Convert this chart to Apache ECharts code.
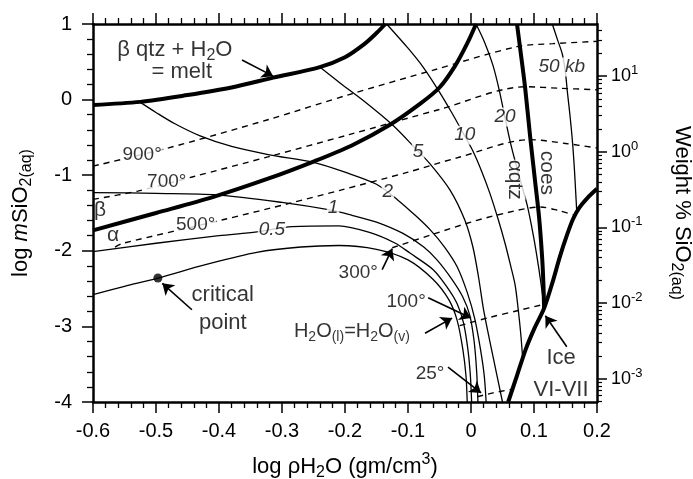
<!DOCTYPE html>
<html>
<head>
<meta charset="utf-8">
<script src="https://cdn.jsdelivr.net/npm/echarts@6/dist/echarts.min.js"></script>
<style>html,body{margin:0;padding:0;background:#fff}#c{width:693px;height:479px}</style>
</head>
<body>
<div id="c"></div>
<script>
const FONT = '"Liberation Sans", Arial, Helvetica, sans-serif';
// offset between log m and log weight% (right axis)
const WT_OFFSET = 0.69;

// axis ranges / ticks
const xRange = [-0.6, 0.2];
const yRange = [-4, 1];
const rightMajorExp = [-3, -2, -1, 0, 1];
const rightMinorMult = [2, 3, 4, 5, 6, 7, 8, 9];

// thick phase boundaries  [log rho, log m]
const meltCurve = [[-0.6,-0.07],[-0.525,-0.03],[-0.45,0.06],[-0.38,0.16],[-0.314,0.29],[-0.24,0.43],[-0.2,0.56],[-0.17,0.73],[-0.15,0.88],[-0.136,1.0]];
const alphaBeta = [[-0.6,-1.73],[-0.5,-1.5],[-0.41,-1.29],[-0.32,-1.04],[-0.25,-0.82],[-0.19,-0.61],[-0.13,-0.34],[-0.08,-0.05],[-0.05,0.16],[-0.025,0.45],[-0.005,0.76],[0.008,1.0]];
const coesQtz = [[0.073,1.0],[0.08,0.55],[0.086,0.15],[0.094,-0.5],[0.102,-1.1],[0.108,-1.55],[0.113,-2.1],[0.115,-2.45],[0.116,-2.76]];
const iceLine = [[0.059,-4.0],[0.073,-3.65],[0.087,-3.3],[0.101,-3.02],[0.116,-2.76],[0.13,-2.4],[0.141,-2.08],[0.152,-1.8],[0.162,-1.58],[0.172,-1.43],[0.185,-1.3],[0.2,-1.18]];

// thin isobars (kb) and liquid-vapour curve
const lvCurve = [[-0.6,-2.58],[-0.55,-2.47],[-0.497,-2.36],[-0.42,-2.18],[-0.34,-2.02],[-0.27,-1.95],[-0.21,-1.93],[-0.15,-1.98],[-0.1,-2.12],[-0.06,-2.38],[-0.035,-2.65],[-0.022,-2.92],[-0.013,-3.3],[-0.008,-3.65],[-0.006,-4.0]];
const kb05 = [[-0.6,-2.01],[-0.5,-1.9],[-0.4,-1.8],[-0.34,-1.75],[-0.284,-1.68],[-0.21,-1.67],[-0.16,-1.76],[-0.12,-1.9],[-0.097,-2.03],[-0.06,-2.25],[-0.038,-2.48],[-0.022,-2.7],[-0.012,-2.95],[-0.005,-3.3],[-0.001,-3.65],[0.001,-4.0]];
const kb1 = [[-0.6,-1.23],[-0.5,-1.24],[-0.403,-1.26],[-0.3,-1.36],[-0.224,-1.46],[-0.189,-1.53],[-0.15,-1.62],[-0.108,-1.77],[-0.075,-1.95],[-0.054,-2.12],[-0.03,-2.38],[-0.013,-2.61],[-0.002,-2.85],[0.005,-3.2],[0.009,-3.6],[0.011,-4.0]];
const kb2 = [[-0.526,-0.03],[-0.5,-0.17],[-0.47,-0.32],[-0.43,-0.48],[-0.38,-0.62],[-0.32,-0.73],[-0.25,-0.83],[-0.2,-0.96],[-0.15,-1.12],[-0.116,-1.33],[-0.09,-1.52],[-0.065,-1.72],[-0.042,-1.95],[-0.022,-2.21],[-0.006,-2.55],[0.006,-2.9],[0.015,-3.3],[0.021,-3.65],[0.024,-4.0]];
const kb5 = [[-0.24,0.43],[-0.208,0.22],[-0.17,-0.02],[-0.124,-0.34],[-0.09,-0.63],[-0.065,-0.85],[-0.033,-1.2],[-0.01,-1.59],[0.003,-1.95],[0.012,-2.35],[0.02,-2.78],[0.03,-3.2],[0.04,-3.6],[0.05,-4.0]];
const kb10 = [[-0.134,1.0],[-0.1,0.68],[-0.076,0.43],[-0.05,0.1],[-0.03,-0.18],[-0.012,-0.45],[0.003,-0.68],[0.017,-0.95],[0.03,-1.24],[0.043,-1.58],[0.054,-1.9],[0.063,-2.2],[0.07,-2.45],[0.075,-2.78],[0.079,-3.1],[0.082,-3.42]];
const kb20 = [[0.008,1.0],[0.022,0.75],[0.035,0.45],[0.045,0.12],[0.054,-0.24],[0.064,-0.62],[0.076,-1.0],[0.089,-1.39],[0.099,-1.8],[0.107,-2.2],[0.113,-2.55],[0.116,-2.76]];
const kb50 = [[0.129,1.0],[0.137,0.8],[0.145,0.6],[0.15,0.35],[0.153,0.1],[0.157,-0.2],[0.161,-0.55],[0.164,-0.9],[0.166,-1.2],[0.168,-1.5]];

// dashed isotherms (deg C)
const t900 = [[-0.6,-0.88],[-0.483,-0.645],[-0.324,-0.27],[-0.192,0.07],[-0.06,0.39],[0.073,0.7],[0.13,0.74],[0.2,0.77]];
const t700 = [[-0.6,-1.32],[-0.529,-1.21],[-0.441,-1.02],[-0.319,-0.75],[-0.192,-0.46],[-0.05,-0.13],[0.086,0.17],[0.14,0.15],[0.2,0.13]];
const t500 = [[-0.565,-1.95],[-0.552,-1.9],[-0.394,-1.59],[-0.287,-1.37],[-0.208,-1.2],[-0.1,-0.96],[-0.022,-0.77],[0.094,-0.53],[0.15,-0.58],[0.2,-0.64]];
const t300 = [[-0.125,-1.96],[-0.06,-1.78],[0.0,-1.62],[0.055,-1.5],[0.11,-1.42],[0.14,-1.47],[0.165,-1.53]];
const t100 = [[-0.018,-2.99],[0.03,-2.88],[0.075,-2.79],[0.115,-2.71]];
const t25 = [[0.01,-3.93],[0.035,-3.88],[0.065,-3.83]];

const criticalPoint = [[-0.497,-2.36]];

// text annotations: [text, x, y, style]
const annotations = [
  ['β qtz + H{sub|2}O', -0.47, 0.656, 'ann'],
  ['= melt', -0.459, 0.365, 'ann'],
  ['critical', -0.394, -2.585, 'ann'],
  ['point', -0.394, -2.955, 'ann'],
  ['H{sub|2}O{sub|(l)}=H{sub|2}O{sub|(v)}', -0.189, -3.07, 'ann19'],
  ['300°', -0.179, -2.29, 'deg'],
  ['100°', -0.103, -2.68, 'deg'],
  ['25°', -0.065, -3.62, 'deg'],
  ['Ice', 0.143, -3.42, 'ann'],
  ['VI-VII', 0.143, -3.84, 'ann'],
  ['900°', -0.522, -0.733, 'degbg'],
  ['700°', -0.483, -1.09, 'degbg'],
  ['500°', -0.437, -1.66, 'degbg'],
  ['β', -0.589, -1.46, 'greek'],
  ['α', -0.568, -1.79, 'greek'],
  ['1', -0.219, -1.43, 'kb'],
  ['0.5', -0.316, -1.72, 'kb'],
  ['2', -0.132, -1.22, 'kb'],
  ['5', -0.084, -0.69, 'kb'],
  ['10', -0.010, -0.47, 'kb'],
  ['20', 0.054, -0.23, 'kb'],
  ['50 kb', 0.144, 0.43, 'kb'],
  ['αqtz', 0.07, -1.06, 'rotbg'],
  ['coes', 0.121, -0.97, 'rot']
];

// arrows: [from, to, curveness]
const arrows = [
  [[-0.3635,0.524],[-0.314,0.31],0.3],
  [[-0.443,-2.78],[-0.49,-2.43],0.2],
  [[-0.141,-2.25],[-0.125,-1.97],-0.4],
  [[-0.068,-2.62],[0.0,-2.89],0.4],
  [[-0.073,-3.09],[-0.03,-2.89],0],
  [[-0.0365,-3.54],[0.016,-3.88],0.4],
  [[0.152,-3.27],[0.118,-2.86],-0.4]
];

function richSet(F) {
  const s = Math.round(F * 0.72);
  return {
    i: {fontSize: F, fontStyle: 'italic', fontFamily: FONT, color: '#000'},
    sub: {fontSize: s, fontFamily: FONT, color: '#000', padding: [Math.round(F * 0.55), 0, 0, 0]},
    sup: {fontSize: s, fontFamily: FONT, color: '#000', padding: [0, 0, Math.round(F * 0.62), 0]}
  };
}

const styles = {
  ann: {fontSize: 22},
  ann19: {fontSize: 20},
  deg: {fontSize: 19},
  degbg: {fontSize: 19, backgroundColor: '#fff', padding: [0, 1]},
  greek: {fontSize: 21},
  kb: {fontSize: 19, fontStyle: 'italic', backgroundColor: '#fff', padding: [0, 1]},
  rotbg: {fontSize: 21, rotate: -90, backgroundColor: '#fff', padding: [0, 0]},
  rot: {fontSize: 21, rotate: -90}
};

function lineSeries(data, kind) {
  const ls = {color: '#000'};
  if (kind === 'thick') { ls.width = 4; }
  else if (kind === 'dash') { ls.width = 1.4; ls.type = [6, 5]; }
  else { ls.width = 1.3; }
  return {type: 'line', data: data, symbol: 'none', smooth: 0.3, lineStyle: ls,
    silent: true, z: kind === 'thick' ? 4 : 3, animation: false};
}

const minorVals = [];
for (let e = -4; e <= 1; e++) {
  for (const m of rightMinorMult) {
    const v = e + Math.log10(m);
    if (v > yRange[0] + WT_OFFSET && v < yRange[1] + WT_OFFSET) minorVals.push(v);
  }
}

const chart = echarts.init(document.getElementById('c'));

const xAxisBase = {
  type: 'value', min: xRange[0], max: xRange[1], interval: 0.1,
  axisLine: {show: true, onZero: false, lineStyle: {color: '#000', width: 2.5}},
  axisTick: {show: true, length: 11, lineStyle: {color: '#000', width: 1.5}},
  minorTick: {show: true, splitNumber: 5, length: 6, lineStyle: {color: '#000', width: 1.3}},
  splitLine: {show: false}
};

const option = {
  animation: false,
  backgroundColor: '#fff',
  grid: {left: 93, right: 96, top: 24, bottom: 77, containLabel: false, outerBoundsMode: 'none'},
  xAxis: [
    Object.assign({}, xAxisBase, {
      position: 'bottom',
      axisLabel: {show: true, margin: 19, fontSize: 20, fontFamily: FONT, color: '#000',
        formatter: v => Math.abs(v) < 1e-9 ? '0' : v.toFixed(1)},
      name: 'log ρH{sub|2}O (gm/cm{sup|3})', nameLocation: 'middle', nameGap: 50,
      nameTextStyle: {fontSize: 22, fontFamily: FONT, color: '#000', rich: richSet(22)}
    }),
    Object.assign({}, xAxisBase, {position: 'top', axisLabel: {show: false}})
  ],
  yAxis: [
    {
      type: 'value', min: yRange[0], max: yRange[1], interval: 1, position: 'left',
      axisLine: {show: true, onZero: false, lineStyle: {color: '#000', width: 2.5}},
      axisTick: {show: true, length: 11, lineStyle: {color: '#000', width: 1.5}},
      minorTick: {show: true, splitNumber: 5, length: 6, lineStyle: {color: '#000', width: 1.3}},
      splitLine: {show: false},
      axisLabel: {margin: 21, fontSize: 20, fontFamily: FONT, color: '#000', formatter: v => String(v)},
      name: 'log {i|m}SiO{sub|2(aq)}', nameLocation: 'middle', nameGap: 58, nameRotate: 90,
      nameTextStyle: {fontSize: 22, fontFamily: FONT, color: '#000', rich: richSet(22)}
    },
    {
      type: 'value', min: yRange[0] + WT_OFFSET, max: yRange[1] + WT_OFFSET, position: 'right',
      axisLine: {show: true, onZero: false, lineStyle: {color: '#000', width: 2.5}},
      axisTick: {show: true, length: 10, customValues: rightMajorExp, lineStyle: {color: '#000', width: 1.5}},
      splitLine: {show: false},
      axisLabel: {show: true, margin: 14, fontSize: 18, fontFamily: FONT, color: '#000',
        customValues: rightMajorExp,
        formatter: v => '10{sup|' + Math.round(v) + '}',
        rich: {sup: {fontSize: 13, fontFamily: FONT, color: '#000', padding: [0, 0, 11, 0]}}},
      name: 'Weight % SiO{sub|2(aq)}', nameLocation: 'middle', nameGap: 71, nameRotate: -90,
      nameTextStyle: {fontSize: 22, fontFamily: FONT, color: '#000', rich: richSet(22)}
    },
    {
      type: 'value', min: yRange[0] + WT_OFFSET, max: yRange[1] + WT_OFFSET, position: 'right',
      axisLine: {show: false, onZero: false},
      axisTick: {show: true, length: 5, customValues: minorVals, lineStyle: {color: '#000', width: 1.2}},
      axisLabel: {show: false},
      splitLine: {show: false}
    }
  ],
  series: [
    lineSeries(lvCurve, 'thin'),
    lineSeries(kb05, 'thin'),
    lineSeries(kb1, 'thin'),
    lineSeries(kb2, 'thin'),
    lineSeries(kb5, 'thin'),
    lineSeries(kb10, 'thin'),
    lineSeries(kb20, 'thin'),
    lineSeries(kb50, 'thin'),
    lineSeries(t900, 'dash'),
    lineSeries(t700, 'dash'),
    lineSeries(t500, 'dash'),
    lineSeries(t300, 'dash'),
    lineSeries(t100, 'dash'),
    lineSeries(t25, 'dash'),
    lineSeries(meltCurve, 'thick'),
    lineSeries(alphaBeta, 'thick'),
    lineSeries(coesQtz, 'thick'),
    lineSeries(iceLine, 'thick'),
    {
      type: 'scatter', data: criticalPoint, symbol: 'circle', symbolSize: 9,
      itemStyle: {color: '#000'}, silent: true, z: 6
    },
    {
      type: 'scatter', silent: true, z: 8, symbolSize: 1,
      itemStyle: {color: 'rgba(0,0,0,0)'},
      data: annotations.map(a => {
        const st = styles[a[3]];
        return {
          value: [a[1], a[2]],
          label: Object.assign({
            show: true, position: 'inside', formatter: a[0], color: '#000',
            fontFamily: FONT, rich: richSet(st.fontSize)
          }, st)
        };
      }),
      markLine: {
        silent: true, animation: false, symbol: ['none', 'arrow'], symbolSize: 11,
        label: {show: false},
        lineStyle: {color: '#000', width: 1.6, type: 'solid'},
        emphasis: {disabled: true},
        data: arrows.map(a => [
          {coord: a[0], lineStyle: {curveness: a[2]}},
          {coord: a[1]}
        ])
      }
    }
  ]
};
chart.setOption(option);
</script>
</body>
</html>
